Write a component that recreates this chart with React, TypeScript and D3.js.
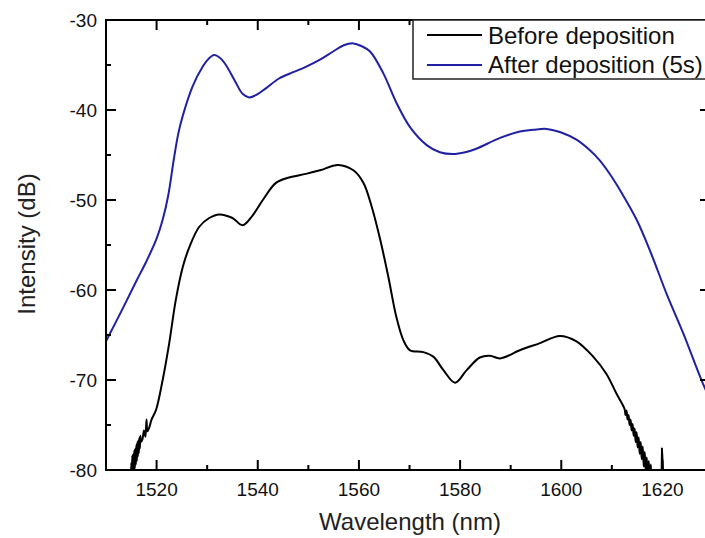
import React from "react";
import * as d3 from "d3";

const afterWl = [1510, 1513, 1516, 1518, 1520, 1521.2, 1522.3, 1523.4, 1524.3, 1525.2, 1527.1, 1529.1, 1530.3, 1531.4, 1532.5, 1533.7, 1535.7, 1537.0, 1538.3, 1539.8, 1541.6, 1544.2, 1547, 1549.5, 1552.3, 1554.9, 1557, 1558.9, 1560.5, 1562.2, 1564.8, 1567.5, 1570.1, 1573.4, 1576, 1578.6, 1581, 1583.2, 1587.9, 1591.8, 1594.5, 1597.1, 1600, 1603.0, 1605.5, 1607.6, 1609.7, 1611.6, 1614.9, 1617.8, 1620.8, 1624.1, 1628.0, 1630];
const afterDb = [-65.7, -62.4, -59.0, -56.8, -54.3, -52.2, -49.5, -45.5, -42.6, -40.6, -37.4, -35.2, -34.3, -33.9, -34.2, -35.0, -37.0, -38.2, -38.6, -38.3, -37.6, -36.5, -35.8, -35.2, -34.4, -33.5, -32.8, -32.6, -32.9, -33.5, -35.9, -39.3, -41.9, -43.9, -44.7, -44.9, -44.7, -44.3, -43.1, -42.4, -42.2, -42.1, -42.5, -43.3, -44.4, -45.6, -47.2, -48.9, -52.2, -56.0, -60.4, -64.8, -70.4, -72.8];

const beforeWl = [1514.8, 1515.0, 1515.1, 1515.2, 1515.3, 1515.4, 1515.5, 1515.6, 1515.7, 1515.8, 1515.9, 1516.0, 1516.1, 1516.2, 1516.3, 1516.4, 1516.5, 1516.6, 1516.7, 1516.8, 1516.9, 1517.2, 1517.5, 1517.8, 1518.0, 1518.2, 1518.6, 1519.0, 1519.9, 1521.2, 1522.5, 1523.8, 1525.2, 1526.5, 1528.4, 1530.4, 1532.4, 1535.0, 1537.0, 1539.0, 1541.0, 1543.6, 1546.2, 1549.5, 1552.3, 1555.9, 1558.9, 1560.9, 1562.5, 1564.2, 1565.8, 1567.4, 1568.8, 1570.1, 1572.7, 1574.7, 1576.7, 1579.0, 1581.3, 1583.9, 1585.9, 1587.9, 1591.8, 1595.8, 1599.7, 1603.0, 1606.3, 1608.9, 1610.9, 1612.5, 1612.7, 1612.9, 1613.1, 1613.3, 1613.5, 1613.7, 1613.9, 1614.1, 1614.3, 1614.5, 1614.7, 1614.9, 1615.1, 1615.3, 1615.5, 1615.7, 1615.9, 1616.1, 1616.3, 1616.5, 1616.7, 1616.9, 1617.1, 1617.3, 1617.5, 1617.7, 1617.9, 1618.1, 1618.3, 1619.7, 1619.9, 1620.1, 1621];
const beforeDb = [-82, -79.2, -81, -78.4, -80.6, -78.2, -80.2, -77.8, -79.8, -77.6, -79.4, -77.2, -79.0, -76.9, -78.5, -76.7, -78.1, -76.4, -77.6, -76.2, -76.9, -76.6, -75.6, -76.3, -74.4, -75.7, -75.2, -74.4, -73.3, -70.0, -65.9, -61.1, -57.4, -55.2, -53.0, -52.0, -51.6, -52.0, -52.8, -51.7, -50.0, -48.1, -47.5, -47.1, -46.7, -46.1, -46.7, -48.1, -50.7, -54.4, -58.5, -63.0, -65.6, -66.7, -66.9, -67.4, -68.9, -70.3, -68.9, -67.5, -67.3, -67.6, -66.7, -65.9, -65.1, -65.7, -67.4, -69.3, -71.5, -73.2, -73.9, -73.4, -74.4, -73.9, -75.0, -74.4, -75.6, -74.9, -76.2, -75.4, -76.9, -75.8, -77.5, -76.4, -78.2, -76.9, -78.8, -77.4, -79.6, -78.0, -80.2, -78.6, -80.8, -79.0, -81.5, -79.4, -82, -80.1, -83, -83, -77.6, -83, -84];

const xMajor = [1520, 1540, 1560, 1580, 1600, 1620];
const xMinor = [1510, 1530, 1550, 1570, 1590, 1610];
const yMajor = [-30, -40, -50, -60, -70, -80];
const yMinor = [-35, -45, -55, -65, -75];

const seriesNames = ["Before deposition", "After deposition (5s)"];
const seriesColors = ["#000000", "#2020a2"];

export default function App() {
  const L = 106, R = 710, T = 20, B = 470;
  const x = d3.scaleLinear().domain([1510, 1629.4]).range([L, R]);
  const y = d3.scaleLinear().domain([-80, -30]).range([B, T]);
  const line = d3
    .line<[number, number]>()
    .x((d) => x(d[0]))
    .y((d) => y(d[1]))
    .curve(d3.curveCatmullRom.alpha(0.5));
  const afterPts = afterWl.map((w, i) => [w, afterDb[i]] as [number, number]);
  const beforePts = beforeWl.map((w, i) => [w, beforeDb[i]] as [number, number]);
  const font = "'Liberation Sans', Arial, sans-serif";
  const tickColor = "#000";

  return (
    <div style={{ position: "absolute", left: 0, top: 0 }}>
      <svg width={705} height={538} style={{ display: "block", background: "#fff" }} fontFamily={font}>
        <defs>
          <clipPath id="plotclip">
            <rect x={L} y={T} width={R - L} height={B - T} />
          </clipPath>
        </defs>
        <g clipPath="url(#plotclip)">
          <path d={line(afterPts) || ""} fill="none" stroke={seriesColors[1]} strokeWidth={2} />
          <path d={line(beforePts) || ""} fill="none" stroke={seriesColors[0]} strokeWidth={2} strokeLinejoin="round" />
        </g>
        <rect x={L} y={T} width={R - L} height={B - T} fill="none" stroke="#000" strokeWidth={2} />
        {xMajor.map((v) => (
          <g key={"xm" + v}>
            <line x1={x(v)} x2={x(v)} y1={B} y2={B - 10} stroke={tickColor} strokeWidth={2} />
            <line x1={x(v)} x2={x(v)} y1={T} y2={T + 10} stroke={tickColor} strokeWidth={2} />
            <text x={x(v)} y={496} fontSize={19} textAnchor="middle" fill="#111">{v}</text>
          </g>
        ))}
        {xMinor.map((v) => (
          <g key={"xn" + v}>
            <line x1={x(v)} x2={x(v)} y1={B} y2={B - 5} stroke={tickColor} strokeWidth={2} />
            <line x1={x(v)} x2={x(v)} y1={T} y2={T + 5} stroke={tickColor} strokeWidth={2} />
          </g>
        ))}
        {yMajor.map((v) => (
          <g key={"ym" + v}>
            <line x1={L} x2={L + 10} y1={y(v)} y2={y(v)} stroke={tickColor} strokeWidth={2} />
            <line x1={R} x2={R - 10} y1={y(v)} y2={y(v)} stroke={tickColor} strokeWidth={2} />
            <text x={97} y={y(v) + 7} fontSize={19} textAnchor="end" fill="#111">{v}</text>
          </g>
        ))}
        {yMinor.map((v) => (
          <g key={"yn" + v}>
            <line x1={L} x2={L + 5} y1={y(v)} y2={y(v)} stroke={tickColor} strokeWidth={2} />
            <line x1={R} x2={R - 5} y1={y(v)} y2={y(v)} stroke={tickColor} strokeWidth={2} />
          </g>
        ))}
        <text x={410} y={530} fontSize={24} textAnchor="middle" fill="#222">Wavelength (nm)</text>
        <text transform={`translate(35,244) rotate(-90)`} fontSize={24} textAnchor="middle" fill="#222">Intensity (dB)</text>
        <rect x={413} y={T} width={320} height={59} fill="#fff" stroke="#222" strokeWidth={1.5} />
        {seriesNames.map((name, i) => (
          <g key={name}>
            <line x1={427} x2={482} y1={35 + i * 30} y2={35 + i * 30} stroke={seriesColors[i]} strokeWidth={2} />
            <text x={488} y={44 + i * 29} fontSize={24} fill="#111">{name}</text>
          </g>
        ))}
      </svg>
    </div>
  );
}
